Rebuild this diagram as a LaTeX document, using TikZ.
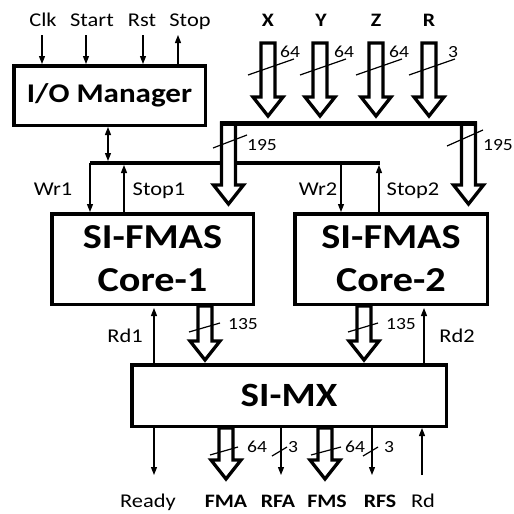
\documentclass[tikz,border=0pt]{standalone}
\usepackage{fontspec}
\setmainfont{Carlito}[FakeStretch=1.15]
\usetikzlibrary{arrows.meta,calc}

\tikzset{
  blk/.style={draw, line width=3.5pt, inner sep=0pt, align=center},
  sig/.style={line width=1.3pt, -{Triangle[length=8pt,width=6pt]}},
  dsig/.style={line width=1.3pt, {Triangle[length=8pt,width=6pt]}-{Triangle[length=8pt,width=6pt]}},
  ctrlbus/.style={line width=4pt},
  databus/.style={line width=5pt},
  fat/.style={draw, fill=white, line width=3.3pt, line join=miter},
  tick/.style={line width=1.2pt},
  lbl/.style={anchor=base, inner sep=0pt, font=\fontsize{19.5}{20}\selectfont},
  blbl/.style={anchor=base, inner sep=0pt, font=\fontsize{19}{20}\selectfont\bfseries},
  wlbl/.style={anchor=base, inner sep=0pt, font=\fontsize{17}{18}\selectfont},
}

% breiter Pfeil von #1 nach unten bis #2
\newcommand{\fatarrow}[2]{%
  \draw[fat] let \p1=(#1), \p2=(#2) in
    (\x1-7pt,\y1) -- (\x1-7pt,\y2+19pt) -- (\x1-15pt,\y2+19pt) -- (\x1,\y2)
    -- (\x1+15pt,\y2+19pt) -- (\x1+7pt,\y2+19pt) -- (\x1+7pt,\y1) -- cycle;}

\begin{document}
\begin{tikzpicture}[x=1pt, y=-1pt]
  \useasboundingbox (0,0) rectangle (514,514);

  % Bloecke
  \node[blk, minimum width=191.5pt, minimum height=59.5pt, font=\fontsize{27}{30}\selectfont\bfseries] (io) at (109.5,95.5) {I/O Manager};
  \node[blk, minimum width=201.5pt, minimum height=90.5pt, font=\fontsize{35}{43}\selectfont\bfseries] (core1) at (152.5,259) {SI-FMAS\\Core-1};
  \node[blk, minimum width=192.5pt, minimum height=90.5pt, font=\fontsize{35}{43}\selectfont\bfseries] (core2) at (391,259) {SI-FMAS\\Core-2};
  \node[blk, minimum width=314.5pt, minimum height=61.5pt, font=\fontsize{34}{40}\selectfont\bfseries] (mx) at (289,395.5) {SI-MX};

  % Steuersignale oben
  \node[lbl] (lclk) at (43,27) {Clk};
  \node[lbl] (lstart) at (92,27) {Start};
  \node[lbl] (lrst) at (142,27) {Rst};
  \node[lbl] (lstop) at (190,27) {Stop};
  \coordinate (clk) at (42,35);
  \coordinate (start) at (86,35);
  \coordinate (rst) at (143,35);
  \coordinate (stop) at (178,35);
  \draw[sig] (clk) -- (clk |- io.north);
  \draw[sig] (start) -- (start |- io.north);
  \draw[sig] (rst) -- (rst |- io.north);
  \draw[sig] (stop |- io.north) -- (stop);

  % Steuerbus zu den Kernen
  \coordinate (wr1) at (90,163);
  \coordinate (stop1) at (124,165);
  \coordinate (wr2) at (341,163);
  \coordinate (stop2) at (379,165);
  \coordinate (iobus) at (108,161);
  \draw[ctrlbus] (wr1) -- (380,163);
  \draw[dsig] (io.south -| iobus) -- (iobus);
  \draw[sig] (wr1) -- (wr1 |- core1.north);
  \draw[sig] (stop1 |- core1.north) -- (stop1);
  \draw[sig] (wr2) -- (wr2 |- core2.north);
  \draw[sig] (stop2 |- core2.north) -- (stop2);
  \node[lbl] (lwr1) at (53,195) {Wr1};
  \node[lbl] (lstop1) at (159,195) {Stop1};
  \node[lbl] (lwr2) at (318,195) {Wr2};
  \node[lbl] (lstop2) at (413,195) {Stop2};

  % Dateneingaenge X, Y, Z, R
  \node[blbl] (lx) at (268,27) {X};
  \node[blbl] (ly) at (321,27) {Y};
  \node[blbl] (lz) at (376,27) {Z};
  \node[blbl] (lr) at (429,27) {R};
  \coordinate (x) at (268,43);
  \coordinate (y) at (320,43);
  \coordinate (z) at (376,43);
  \coordinate (r) at (429,43);
  \foreach \c in {x,y,z,r}{
    \fatarrow{\c}{$(\c)+(0,73)$}
    \draw[tick] (\c) ++(-20,32) -- ++(46,-16);
  }
  \node[wlbl] (wx) at (290,57) {64};
  \node[wlbl] (wy) at (344,57) {64};
  \node[wlbl] (wz) at (399,57) {64};
  \node[wlbl] (wr) at (453,57) {3};

  % Datenbus zu den Kernen
  \coordinate (bus1) at (228.5,123);
  \coordinate (bus2) at (468.5,123);
  \fatarrow{bus1}{bus1 |- 0,204}
  \fatarrow{bus2}{bus2 |- 0,204}
  \draw[databus] ([xshift=-8.5pt]bus1) -- ([xshift=8.5pt]bus2);
  \draw[tick] (213,148) -- (247,135);
  \draw[tick] (447,146) -- (483,130);
  \node[wlbl] (wbus1) at (262,150) {195};
  \node[wlbl] (wbus2) at (498,150) {195};

  % Kerne zum SI-MX
  \coordinate (out1) at (205,360);
  \coordinate (out2) at (364,360);
  \fatarrow{core1.south -| out1}{out1}
  \fatarrow{core2.south -| out2}{out2}
  \draw[tick] (189,332) -- (220,323);
  \draw[tick] (348,332) -- (378,323);
  \node[wlbl] (wout1) at (243,329) {135};
  \node[wlbl] (wout2) at (401,329) {135};
  \coordinate (rd1) at (154,308);
  \coordinate (rd2) at (424,308);
  \draw[sig] (rd1 |- mx.north) -- (rd1);
  \draw[sig] (rd2 |- mx.north) -- (rd2);
  \node[lbl] (lrd1) at (125,342) {Rd1};
  \node[lbl] (lrd2) at (457,342) {Rd2};

  % Ausgaenge
  \coordinate (ready) at (154,475);
  \coordinate (fma) at (226,479);
  \coordinate (rfa) at (281,475);
  \coordinate (fms) at (325,479);
  \coordinate (rfs) at (372,475);
  \coordinate (rd) at (422,475);
  \draw[sig] (mx.south -| ready) -- (ready);
  \fatarrow{mx.south -| fma}{fma}
  \draw[sig] (mx.south -| rfa) -- (rfa);
  \fatarrow{mx.south -| fms}{fms}
  \draw[sig] (mx.south -| rfs) -- (rfs);
  \draw[sig] (rd) -- (rd |- mx.south);
  \draw[tick] (210,455) -- (238,447);
  \draw[tick] (272,456) -- (287,447);
  \draw[tick] (311,455) -- (341,447);
  \draw[tick] (363,456) -- (378,447);
  \node[wlbl] (wfma) at (257,452) {64};
  \node[wlbl] (wrfa) at (293,452) {3};
  \node[wlbl] (wfms) at (355,452) {64};
  \node[wlbl] (wrfs) at (389,452) {3};
  \node[lbl] (lready) at (148,507) {Ready};
  \node[blbl] (lfma) at (226,507) {FMA};
  \node[blbl] (lrfa) at (278,507) {RFA};
  \node[blbl] (lfms) at (327,507) {FMS};
  \node[blbl] (lrfs) at (380,507) {RFS};
  \node[lbl] (lrd) at (423,507) {Rd};
\end{tikzpicture}
\end{document}
